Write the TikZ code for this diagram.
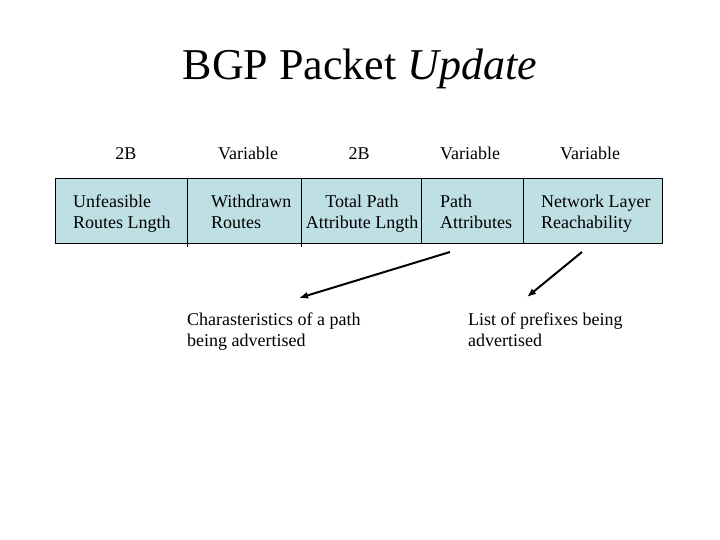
\documentclass[tikz,border=0pt]{standalone}
\usepackage{fontspec}
\setmainfont{Liberation Serif}
\usetikzlibrary{arrows.meta}
\definecolor{cellblue}{RGB}{190,223,228}
\tikzset{
  body/.style={inner sep=0pt, font=\fontsize{18}{21}\selectfont},
  lbl/.style={body, anchor=base west, align=left},
  hdr/.style={body, anchor=base},
  divider/.style={line width=0.8pt},
  pointer/.style={line width=2pt, -{Latex[length=9pt,width=7pt]}}
}
\begin{document}
\begin{tikzpicture}[x=1pt,y=-1pt]
\useasboundingbox (0,0) rectangle (720,540);
\node[inner sep=0pt, anchor=base, font=\fontsize{44}{50}\selectfont] (title) at (360,80) {BGP Packet \textit{Update}};
% header sizes
\node[hdr] (h1) at (126,160) {2B};
\node[hdr] (h2) at (248,160) {Variable};
\node[hdr] (h3) at (359,160) {2B};
\node[hdr] (h4) at (470,160) {Variable};
\node[hdr] (h5) at (590,160) {Variable};
% packet box
\node[draw, line width=1pt, fill=cellblue, anchor=north west, minimum width=607pt, minimum height=65pt, inner sep=0pt] (box) at (54.5,178) {};
\coordinate (d1t) at (187,178); \coordinate (d1b) at (187,247);
\coordinate (d2t) at (301,178); \coordinate (d2b) at (301,247);
\coordinate (d3t) at (421,178); \coordinate (d3b) at (421,243);
\coordinate (d4t) at (523,178); \coordinate (d4b) at (523,243);
\draw[divider] (d1t) -- (d1b);
\draw[divider] (d2t) -- (d2b);
\draw[divider] (d3t) -- (d3b);
\draw[divider] (d4t) -- (d4b);
% cell texts (anchored at the baseline of the last line)
\node[lbl] (c1) at (73,229) {Unfeasible\\Routes Lngth};
\node[lbl] (c2) at (211,229) {Withdrawn\\Routes};
\node[body, anchor=base, align=center] (c3) at (362,229) {Total Path\\Attribute Lngth};
\node[lbl] (c4) at (440,229) {Path\\Attributes};
\node[lbl] (c5) at (541,229) {Network Layer\\Reachability};
% descriptions
\node[lbl] (t1) at (187,346) {Charasteristics of a path\\being advertised};
\node[lbl] (t2) at (468,346) {List of prefixes being\\advertised};
% arrows
\coordinate (a1s) at (450,252); \coordinate (a1e) at (299,298);
\coordinate (a2s) at (582,252); \coordinate (a2e) at (527,297);
\draw[pointer] (a1s) -- (a1e);
\draw[pointer] (a2s) -- (a2e);
\end{tikzpicture}
\end{document}
